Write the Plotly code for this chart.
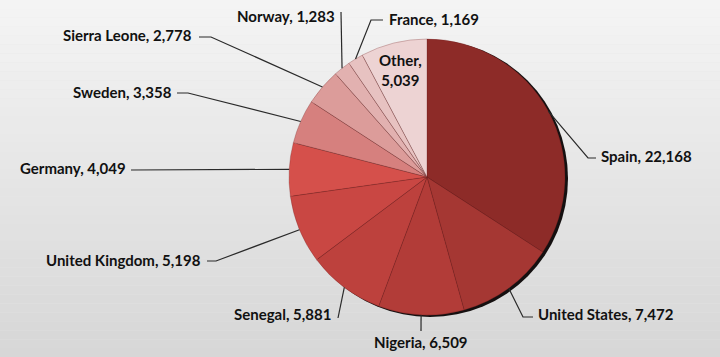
import math
import plotly.graph_objects as go

W, H = 720, 357

# ---- data ----
countries = ["Spain", "United States", "Nigeria", "Senegal", "United Kingdom",
             "Germany", "Sweden", "Sierra Leone", "Norway", "France", "Other"]
values = [22168, 7472, 6509, 5881, 5198, 4049, 3358, 2778, 1283, 1169, 5039]

# ---- styles ----
colors = ["#8D2B28", "#A53733", "#B23C38", "#BD413D", "#C94743", "#D5504B",
          "#D6807E", "#DC9C9A", "#E2B1B0", "#E7C2C1", "#EDD3D3"]

# pie geometry in pixels
cx, cy, r = 427, 177, 138

# label placement (pixels): text x, text y, xanchor, line start, elbow
label_layout = {
    "Spain":          (599, 156, "left",   (596, 158), (588, 158)),
    "United States":  (536, 314, "left",   (533, 317), (523, 317)),
    "Nigeria":        (421, 342, "center", (421, 331), (421, 331)),
    "Senegal":        (333, 314, "right",  (338, 318), (338, 318)),
    "United Kingdom": (203, 260, "right",  (207, 261), (216, 261)),
    "Germany":        (128, 168, "right",  (131, 170), (131, 170)),
    "Sweden":         (174, 92,  "right",  (177, 93),  (188, 93)),
    "Sierra Leone":   (194, 35,  "right",  (199, 37),  (211, 37)),
    "Norway":         (337, 16,  "right",  (341, 12),  (341, 12)),
    "France":         (387, 19,  "left",   (383, 20),  (371, 20)),
}

def px(x):
    return x / W

def py(y):
    return 1 - y / H

fig = go.Figure()
fig.add_trace(go.Pie(
    labels=countries, values=values, sort=False, direction="clockwise",
    rotation=0, textinfo="none", hoverinfo="label+value",
    marker=dict(colors=colors, line=dict(color="rgba(110,30,28,0.35)", width=0.8)),
    domain=dict(x=[px(cx - r), px(cx + r)], y=[py(cy + r), py(cy - r)]),
    showlegend=False,
))

shapes = []
# vertical background gradient
n = 40
top, bot = (244, 244, 244), (215, 215, 215)
for i in range(n):
    t = i / (n - 1)
    c = tuple(round(top[k] + (bot[k] - top[k]) * t) for k in range(3))
    shapes.append(dict(type="rect", xref="paper", yref="paper", layer="below",
                       x0=0, x1=1, y0=1 - (i + 1) / n, y1=1 - i / n,
                       fillcolor="rgb(%d,%d,%d)" % c, line=dict(width=0)))
# dark edge shadow on the right
shapes.append(dict(type="circle", xref="paper", yref="paper", layer="below",
                   x0=px(cx - r + 3), x1=px(cx + r + 3), y0=py(cy + r + 2), y1=py(cy - r + 1),
                   fillcolor="#151010", line=dict(width=0)))

annotations = []
total = sum(values)
cum = 0
font = dict(family="Lato, Carlito, Open Sans, sans-serif", size=15, color="#111111", weight="bold")
for name, v in zip(countries, values):
    mid = (cum + v / 2) / total * 2 * math.pi
    cum += v
    ex = cx + r * math.sin(mid)
    ey = cy - r * math.cos(mid)
    text = "%s, %s" % (name, f"{v:,}")
    if name == "Other":
        ix = cx + 0.8 * r * math.sin(mid)
        iy = cy - 0.8 * r * math.cos(mid)
        annotations.append(dict(x=px(ix), y=py(iy), xref="paper", yref="paper",
                                text="%s,<br>%s" % (name, f"{v:,}"), showarrow=False,
                                font=font, xanchor="center", yanchor="middle", align="center"))
        continue
    tx, ty, xa, (sx, sy), (bx, by) = label_layout[name]
    annotations.append(dict(x=px(tx), y=py(ty), xref="paper", yref="paper", text=text,
                            showarrow=False, font=font, xanchor=xa, yanchor="middle"))
    path = "M %f,%f L %f,%f L %f,%f" % (px(sx), py(sy), px(bx), py(by), px(ex), py(ey))
    shapes.append(dict(type="path", xref="paper", yref="paper", path=path, layer="above",
                       line=dict(color="#2a2a2a", width=1.2)))

fig.update_layout(
    width=W, height=H, margin=dict(l=0, r=0, t=0, b=0),
    paper_bgcolor="#E6E6E6", plot_bgcolor="#E6E6E6",
    shapes=shapes, annotations=annotations,
)

fig.write_html("out.html")
